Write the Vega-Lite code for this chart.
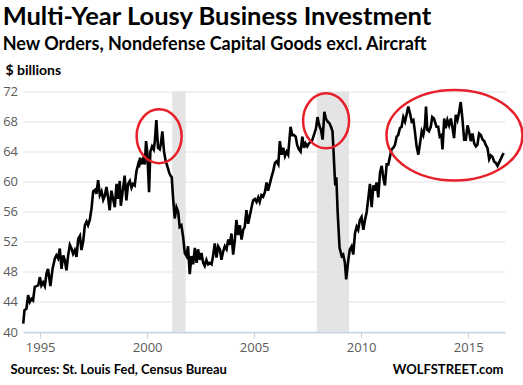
{
  "$schema": "https://vega.github.io/schema/vega-lite/v6.json",
  "width": 482,
  "height": 240.5,
  "autosize": {"type": "none"},
  "padding": {"left": 23, "top": 91.5, "right": 18, "bottom": 53},
  "background": "white",
  "title": {
    "text": "Multi-Year Lousy Business Investment",
    "subtitle": "New Orders, Nondefense Capital Goods excl. Aircraft",
    "anchor": "start",
    "frame": "bounds",
    "offset": 10,
    "font": "Lato",
    "fontSize": 25.5,
    "fontWeight": "bold",
    "color": "black",
    "subtitleFont": "Lato",
    "subtitleFontSize": 18,
    "subtitleFontWeight": "bold",
    "subtitleColor": "black",
    "subtitlePadding": 5
  },
  "config": {
    "view": {"stroke": null},
    "axis": {"labelFont": "Open Sans", "titleFont": "Lato"}
  },
  "datasets": {
    "orders": [
      {"t": 1994.21, "v": 41.1}, {"t": 1994.27, "v": 42.9}, {"t": 1994.36, "v": 43.1}, {"t": 1994.44, "v": 44.9},
      {"t": 1994.52, "v": 44.0}, {"t": 1994.60, "v": 44.4}, {"t": 1994.67, "v": 44.2}, {"t": 1994.75, "v": 46.0},
      {"t": 1994.83, "v": 46.1}, {"t": 1994.91, "v": 46.2}, {"t": 1994.99, "v": 47.3}, {"t": 1995.06, "v": 46.2},
      {"t": 1995.14, "v": 46.6}, {"t": 1995.22, "v": 46.1}, {"t": 1995.30, "v": 47.8}, {"t": 1995.37, "v": 48.4},
      {"t": 1995.48, "v": 46.1}, {"t": 1995.58, "v": 48.4}, {"t": 1995.69, "v": 49.8}, {"t": 1995.76, "v": 50.2},
      {"t": 1995.84, "v": 49.8}, {"t": 1995.92, "v": 51.1}, {"t": 1996.00, "v": 48.4}, {"t": 1996.08, "v": 50.2},
      {"t": 1996.15, "v": 49.6}, {"t": 1996.23, "v": 48.2}, {"t": 1996.31, "v": 50.2}, {"t": 1996.39, "v": 51.6},
      {"t": 1996.47, "v": 51.1}, {"t": 1996.54, "v": 50.4}, {"t": 1996.62, "v": 50.9}, {"t": 1996.70, "v": 50.0},
      {"t": 1996.78, "v": 52.4}, {"t": 1996.86, "v": 52.8}, {"t": 1996.93, "v": 50.9}, {"t": 1997.01, "v": 52.0},
      {"t": 1997.09, "v": 54.2}, {"t": 1997.17, "v": 54.7}, {"t": 1997.24, "v": 54.2}, {"t": 1997.32, "v": 54.9},
      {"t": 1997.40, "v": 56.4}, {"t": 1997.48, "v": 58.7}, {"t": 1997.56, "v": 58.9}, {"t": 1997.63, "v": 58.4},
      {"t": 1997.71, "v": 60.2}, {"t": 1997.79, "v": 58.2}, {"t": 1997.87, "v": 58.7}, {"t": 1997.95, "v": 57.6},
      {"t": 1998.02, "v": 58.1}, {"t": 1998.10, "v": 59.3}, {"t": 1998.18, "v": 57.8}, {"t": 1998.25, "v": 56.2},
      {"t": 1998.33, "v": 58.8}, {"t": 1998.41, "v": 57.7}, {"t": 1998.49, "v": 56.6}, {"t": 1998.57, "v": 59.7},
      {"t": 1998.64, "v": 57.7}, {"t": 1998.72, "v": 60.1}, {"t": 1998.77, "v": 56.8}, {"t": 1998.88, "v": 59.2},
      {"t": 1998.95, "v": 60.8}, {"t": 1999.03, "v": 57.5}, {"t": 1999.11, "v": 59.7}, {"t": 1999.19, "v": 60.1},
      {"t": 1999.27, "v": 59.2}, {"t": 1999.34, "v": 59.7}, {"t": 1999.42, "v": 59.5}, {"t": 1999.50, "v": 61.4},
      {"t": 1999.58, "v": 62.3}, {"t": 1999.62, "v": 61.9}, {"t": 1999.67, "v": 63.2}, {"t": 1999.73, "v": 62.3},
      {"t": 1999.81, "v": 63.0}, {"t": 1999.89, "v": 62.3}, {"t": 1999.95, "v": 65.4}, {"t": 2000.01, "v": 63.8},
      {"t": 2000.09, "v": 58.6}, {"t": 2000.15, "v": 64.0}, {"t": 2000.23, "v": 64.7}, {"t": 2000.31, "v": 64.3},
      {"t": 2000.36, "v": 65.4}, {"t": 2000.43, "v": 68.2}, {"t": 2000.51, "v": 64.5}, {"t": 2000.59, "v": 64.3},
      {"t": 2000.64, "v": 65.0}, {"t": 2000.71, "v": 66.7}, {"t": 2000.79, "v": 64.0}, {"t": 2000.87, "v": 62.7},
      {"t": 2000.95, "v": 62.0}, {"t": 2001.03, "v": 61.2}, {"t": 2001.09, "v": 60.8}, {"t": 2001.15, "v": 60.6},
      {"t": 2001.21, "v": 57.9}, {"t": 2001.29, "v": 55.1}, {"t": 2001.37, "v": 56.6}, {"t": 2001.45, "v": 56.0},
      {"t": 2001.52, "v": 54.0}, {"t": 2001.60, "v": 54.2}, {"t": 2001.68, "v": 52.7}, {"t": 2001.76, "v": 50.5},
      {"t": 2001.84, "v": 50.1}, {"t": 2001.91, "v": 51.4}, {"t": 2001.99, "v": 47.7}, {"t": 2002.07, "v": 50.1},
      {"t": 2002.15, "v": 49.0}, {"t": 2002.23, "v": 51.2}, {"t": 2002.31, "v": 49.2}, {"t": 2002.38, "v": 51.0},
      {"t": 2002.46, "v": 49.6}, {"t": 2002.54, "v": 50.5}, {"t": 2002.62, "v": 49.2}, {"t": 2002.69, "v": 48.8},
      {"t": 2002.77, "v": 49.6}, {"t": 2002.85, "v": 49.0}, {"t": 2002.93, "v": 49.2}, {"t": 2003.01, "v": 49.0},
      {"t": 2003.08, "v": 50.1}, {"t": 2003.16, "v": 51.8}, {"t": 2003.24, "v": 49.9}, {"t": 2003.32, "v": 51.4},
      {"t": 2003.40, "v": 51.0}, {"t": 2003.47, "v": 49.6}, {"t": 2003.55, "v": 50.7}, {"t": 2003.63, "v": 51.4},
      {"t": 2003.71, "v": 51.0}, {"t": 2003.79, "v": 52.3}, {"t": 2003.86, "v": 51.6}, {"t": 2003.94, "v": 53.1},
      {"t": 2004.02, "v": 50.3}, {"t": 2004.10, "v": 52.3}, {"t": 2004.17, "v": 54.9}, {"t": 2004.25, "v": 52.9},
      {"t": 2004.33, "v": 54.2}, {"t": 2004.41, "v": 52.3}, {"t": 2004.49, "v": 53.6}, {"t": 2004.56, "v": 54.0},
      {"t": 2004.64, "v": 56.2}, {"t": 2004.72, "v": 54.4}, {"t": 2004.80, "v": 55.5}, {"t": 2004.88, "v": 56.6},
      {"t": 2004.95, "v": 57.5}, {"t": 2005.03, "v": 57.7}, {"t": 2005.11, "v": 57.3}, {"t": 2005.19, "v": 57.9},
      {"t": 2005.26, "v": 57.3}, {"t": 2005.34, "v": 58.2}, {"t": 2005.42, "v": 58.0}, {"t": 2005.50, "v": 58.6},
      {"t": 2005.58, "v": 59.9}, {"t": 2005.65, "v": 58.8}, {"t": 2005.73, "v": 59.7}, {"t": 2005.81, "v": 60.6},
      {"t": 2005.89, "v": 61.4}, {"t": 2005.97, "v": 62.5}, {"t": 2006.05, "v": 62.7}, {"t": 2006.13, "v": 62.3},
      {"t": 2006.20, "v": 65.4}, {"t": 2006.28, "v": 63.6}, {"t": 2006.36, "v": 64.5}, {"t": 2006.44, "v": 63.4},
      {"t": 2006.52, "v": 64.0}, {"t": 2006.59, "v": 63.6}, {"t": 2006.70, "v": 67.3}, {"t": 2006.78, "v": 66.2},
      {"t": 2006.86, "v": 66.2}, {"t": 2006.94, "v": 66.0}, {"t": 2007.01, "v": 64.9}, {"t": 2007.09, "v": 64.3},
      {"t": 2007.17, "v": 64.0}, {"t": 2007.25, "v": 66.0}, {"t": 2007.33, "v": 64.5}, {"t": 2007.40, "v": 65.1},
      {"t": 2007.48, "v": 64.7}, {"t": 2007.56, "v": 65.1}, {"t": 2007.64, "v": 65.3}, {"t": 2007.71, "v": 65.5},
      {"t": 2007.79, "v": 66.2}, {"t": 2007.89, "v": 67.1}, {"t": 2007.96, "v": 68.6}, {"t": 2008.04, "v": 67.5},
      {"t": 2008.12, "v": 66.9}, {"t": 2008.20, "v": 65.6}, {"t": 2008.28, "v": 69.3}, {"t": 2008.35, "v": 68.4},
      {"t": 2008.43, "v": 68.0}, {"t": 2008.51, "v": 67.8}, {"t": 2008.59, "v": 67.3}, {"t": 2008.66, "v": 66.7},
      {"t": 2008.71, "v": 64.0}, {"t": 2008.76, "v": 61.0}, {"t": 2008.79, "v": 59.5}, {"t": 2008.84, "v": 60.6},
      {"t": 2008.90, "v": 56.0}, {"t": 2008.99, "v": 51.2}, {"t": 2009.09, "v": 50.1}, {"t": 2009.16, "v": 50.3},
      {"t": 2009.24, "v": 49.2}, {"t": 2009.30, "v": 47.0}, {"t": 2009.40, "v": 49.6}, {"t": 2009.47, "v": 51.0},
      {"t": 2009.55, "v": 51.4}, {"t": 2009.63, "v": 50.3}, {"t": 2009.71, "v": 53.1}, {"t": 2009.79, "v": 54.0},
      {"t": 2009.86, "v": 53.6}, {"t": 2009.94, "v": 54.9}, {"t": 2010.02, "v": 55.3}, {"t": 2010.10, "v": 53.6},
      {"t": 2010.18, "v": 54.9}, {"t": 2010.26, "v": 56.0}, {"t": 2010.33, "v": 57.7}, {"t": 2010.41, "v": 59.7},
      {"t": 2010.49, "v": 56.6}, {"t": 2010.57, "v": 59.5}, {"t": 2010.64, "v": 58.8}, {"t": 2010.72, "v": 59.9},
      {"t": 2010.80, "v": 57.9}, {"t": 2010.88, "v": 61.2}, {"t": 2010.96, "v": 62.1}, {"t": 2011.03, "v": 60.6},
      {"t": 2011.11, "v": 59.5}, {"t": 2011.19, "v": 62.3}, {"t": 2011.27, "v": 62.3}, {"t": 2011.35, "v": 63.4},
      {"t": 2011.42, "v": 64.3}, {"t": 2011.50, "v": 64.5}, {"t": 2011.58, "v": 64.9}, {"t": 2011.66, "v": 66.0},
      {"t": 2011.73, "v": 66.2}, {"t": 2011.81, "v": 67.1}, {"t": 2011.89, "v": 67.3}, {"t": 2011.97, "v": 68.6},
      {"t": 2012.05, "v": 68.0}, {"t": 2012.12, "v": 68.9}, {"t": 2012.20, "v": 70.0}, {"t": 2012.28, "v": 69.1},
      {"t": 2012.36, "v": 68.0}, {"t": 2012.44, "v": 68.2}, {"t": 2012.51, "v": 66.7}, {"t": 2012.59, "v": 64.7},
      {"t": 2012.67, "v": 63.6}, {"t": 2012.75, "v": 65.1}, {"t": 2012.83, "v": 66.7}, {"t": 2012.90, "v": 66.2},
      {"t": 2012.98, "v": 67.5}, {"t": 2013.03, "v": 70.0}, {"t": 2013.09, "v": 66.9}, {"t": 2013.17, "v": 66.7},
      {"t": 2013.25, "v": 67.3}, {"t": 2013.32, "v": 68.6}, {"t": 2013.40, "v": 68.4}, {"t": 2013.52, "v": 67.3},
      {"t": 2013.60, "v": 67.3}, {"t": 2013.67, "v": 66.0}, {"t": 2013.75, "v": 66.2}, {"t": 2013.80, "v": 64.3},
      {"t": 2013.88, "v": 68.4}, {"t": 2013.95, "v": 67.1}, {"t": 2014.03, "v": 68.2}, {"t": 2014.11, "v": 67.5},
      {"t": 2014.19, "v": 68.4}, {"t": 2014.27, "v": 67.1}, {"t": 2014.34, "v": 65.8}, {"t": 2014.42, "v": 68.9},
      {"t": 2014.50, "v": 68.2}, {"t": 2014.58, "v": 69.3}, {"t": 2014.65, "v": 70.6}, {"t": 2014.73, "v": 68.4},
      {"t": 2014.81, "v": 65.6}, {"t": 2014.89, "v": 65.6}, {"t": 2014.97, "v": 67.5}, {"t": 2015.04, "v": 66.7},
      {"t": 2015.12, "v": 65.4}, {"t": 2015.20, "v": 66.4}, {"t": 2015.28, "v": 65.1}, {"t": 2015.36, "v": 64.7},
      {"t": 2015.43, "v": 64.9}, {"t": 2015.51, "v": 66.4}, {"t": 2015.59, "v": 66.2}, {"t": 2015.67, "v": 65.6},
      {"t": 2015.75, "v": 65.4}, {"t": 2015.82, "v": 64.9}, {"t": 2015.90, "v": 64.5}, {"t": 2015.98, "v": 63.0},
      {"t": 2016.06, "v": 63.5}, {"t": 2016.14, "v": 63.3}, {"t": 2016.21, "v": 62.7}, {"t": 2016.29, "v": 62.5},
      {"t": 2016.37, "v": 62.1}, {"t": 2016.45, "v": 62.6}, {"t": 2016.52, "v": 63.0}, {"t": 2016.60, "v": 63.5},
      {"t": 2016.66, "v": 63.8}
    ],
    "recessions": [
      {"start": 2001.17, "end": 2001.8},
      {"start": 2007.93, "end": 2009.43}
    ]
  },
  "resolve": {"axis": {"y": "independent"}},
  "layer": [
    {
      "data": {"name": "recessions"},
      "mark": {"type": "rect", "color": "#e4e4e4"},
      "encoding": {
        "x": {"field": "start", "type": "quantitative", "scale": {"domain": [1994.2, 2016.72], "nice": false, "zero": false}, "title": "Sources: St. Louis Fed, Census Bureau"},
        "x2": {"field": "end"}
      }
    },
    {
      "data": {"name": "orders"},
      "mark": {"type": "line", "color": "black", "strokeWidth": 2.6},
      "encoding": {
        "x": {
          "field": "t", "type": "quantitative",
          "scale": {"domain": [1994.2, 2016.72], "nice": false, "zero": false},
          "title": "Sources: St. Louis Fed, Census Bureau",
          "axis": {
            "values": [1995, 2000, 2005, 2010, 2015], "format": "d", "grid": false,
            "labelFontSize": 13, "labelColor": "#5a5a5a", "labelPadding": 3,
            "domainColor": "#c6d4e3", "domainWidth": 1.5, "tickColor": "#c6d4e3", "tickSize": 6,
            "titleFontSize": 13, "titleFontWeight": "bold", "titleColor": "black",
            "titleAlign": "left", "titleAnchor": "start", "titleBaseline": "middle",
            "titleX": -13, "titleY": 37.5
          }
        },
        "y": {
          "field": "v", "type": "quantitative",
          "scale": {"domain": [40, 72], "nice": false, "zero": false},
          "title": "$ billions",
          "axis": {
            "values": [40, 44, 48, 52, 56, 60, 64, 68, 72], "grid": true, "gridColor": "#e2e2e2",
            "domain": false, "ticks": false, "labelPadding": 5.5,
            "labelFontSize": 13, "labelColor": "#5a5a5a",
            "titleAngle": 0, "titleAlign": "left", "titleBaseline": "middle",
            "titleX": -18, "titleY": -21, "titleFontSize": 14, "titleFontWeight": "bold", "titleColor": "black"
          }
        }
      }
    },
    {
      "data": {"values": [{"t": 2000.56, "v": 66.05}]},
      "mark": {"type": "point", "filled": false, "opacity": 1, "stroke": "#e8202a", "strokeWidth": 2.5,
               "shape": "M -0.833 0 A 0.833 1 0 1 0 0.833 0 A 0.833 1 0 1 0 -0.833 0 Z", "size": 2916},
      "encoding": {
        "x": {"field": "t", "type": "quantitative", "title": "Sources: St. Louis Fed, Census Bureau"},
        "y": {"field": "v", "type": "quantitative", "axis": null}
      }
    },
    {
      "data": {"values": [{"t": 2008.36, "v": 68.1}]},
      "mark": {"type": "point", "filled": false, "opacity": 1, "stroke": "#e8202a", "strokeWidth": 2.5,
               "shape": "M -0.836 0 A 0.836 1 0 1 0 0.836 0 A 0.836 1 0 1 0 -0.836 0 Z", "size": 3025},
      "encoding": {
        "x": {"field": "t", "type": "quantitative", "title": "Sources: St. Louis Fed, Census Bureau"},
        "y": {"field": "v", "type": "quantitative", "axis": null}
      }
    },
    {
      "data": {"values": [{"t": 2014.36, "v": 66.18}]},
      "mark": {"type": "point", "filled": false, "opacity": 1, "stroke": "#e8202a", "strokeWidth": 2.5,
               "shape": "M -1 0 A 1 0.666 0 1 0 1 0 A 1 0.666 0 1 0 -1 0 Z", "size": 18496},
      "encoding": {
        "x": {"field": "t", "type": "quantitative", "title": "Sources: St. Louis Fed, Census Bureau"},
        "y": {
          "field": "v", "type": "quantitative", "title": "WOLFSTREET.com",
          "axis": {
            "orient": "right", "labels": false, "ticks": false, "domain": false, "grid": false,
            "titleAngle": 0, "titleAlign": "right", "titleBaseline": "middle",
            "titleX": -2, "titleY": 277.8, "titleFontSize": 13, "titleFontWeight": "bold", "titleColor": "black"
          }
        }
      }
    }
  ]
}
